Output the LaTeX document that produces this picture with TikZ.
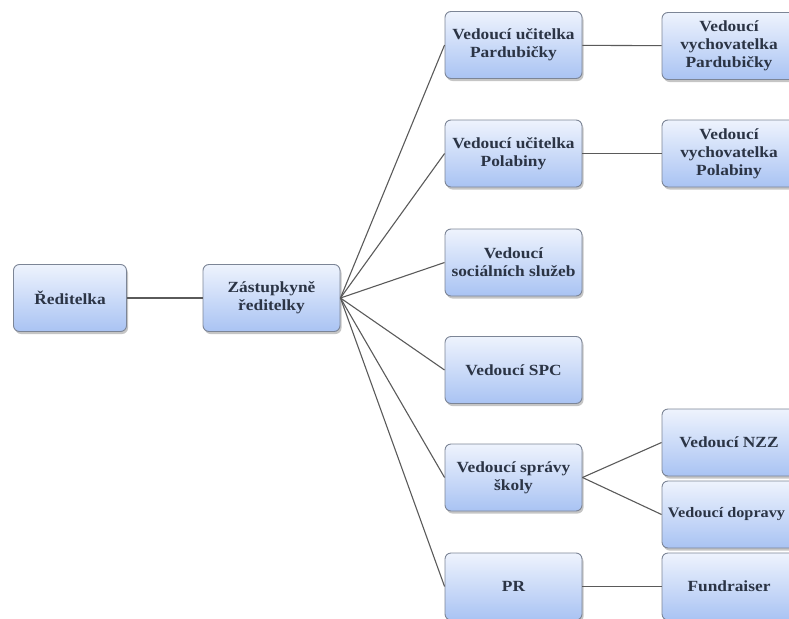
\documentclass[tikz,border=0pt]{standalone}
\usepackage{fontspec}
\setmainfont{Liberation Serif}[FakeStretch=1.12]
\usetikzlibrary{shadows}
\definecolor{boxtop}{HTML}{EEF3FD}
\definecolor{boxbot}{HTML}{A9C3F3}
\definecolor{boxline}{HTML}{7C8596}
\definecolor{boxtext}{HTML}{2B3445}
\definecolor{linkline}{HTML}{5A5A5A}

\begin{document}
\begin{tikzpicture}[x=1pt,y=-1pt,
    box/.style={draw=boxline, line width=0.9pt, rounded corners=6pt,
      top color=boxtop, bottom color=boxbot, text=boxtext,
      drop shadow={shadow xshift=1.5pt, shadow yshift=-2.5pt, fill=black!45, opacity=0.5},
      align=center, inner sep=0pt, minimum height=67pt,
      font=\bfseries\fontsize{15.5}{18}\selectfont},
    head/.style={box, minimum width=113pt},
    mid/.style={box, minimum width=137pt},
    leaf/.style={box, minimum width=134pt},
    link/.style={draw=linkline, line width=1.1pt}]
        \clip (0,0) rectangle (789,618);
        % levels 1 and 2
        \node[head] (red) at (70,298) {Ředitelka};
        \node[mid] (zast) at (271.5,298) {Zástupkyně\\ředitelky};
        % level 3
        \node[mid] (ucpar) at (513.5,45) {Vedoucí učitelka\\Pardubičky};
        \node[mid] (ucpol) at (513.5,153.5) {Vedoucí učitelka\\Polabiny};
        \node[mid] (soc) at (513.5,262.5) {Vedoucí\\sociálních služeb};
        \node[mid] (spc) at (513.5,370) {Vedoucí SPC};
        \node[mid] (spr) at (513.5,477.5) {Vedoucí správy\\školy};
        \node[mid] (pr) at (513.5,586.5) {PR};
        % level 4
        \node[leaf] (vypar) at (729,46) {Vedoucí\\vychovatelka\\Pardubičky};
        \node[leaf] (vypol) at (729,153.5) {Vedoucí\\vychovatelka\\Polabiny};
        \node[leaf] (nzz) at (729,442.5) {Vedoucí NZZ};
        \node[leaf, font=\bfseries\fontsize{14.5}{18}\selectfont] (dop) at (729,514.5) {Vedoucí dopravy\hspace*{5pt}};
        \node[leaf] (fund) at (729,586.5) {Fundraiser};
        % connectors
        \draw[link] (red) -- (zast);
        \foreach \n in {ucpar,ucpol,soc,spc,spr,pr}
          \draw[link] (zast.east) -- (\n.west);
        \draw[link] (ucpar) -- (vypar);
        \draw[link] (ucpol) -- (vypol);
        \draw[link] (spr.east) -- (nzz.west);
        \draw[link] (spr.east) -- (dop.west);
        \draw[link] (pr) -- (fund);
      \end{tikzpicture}
\end{document}
